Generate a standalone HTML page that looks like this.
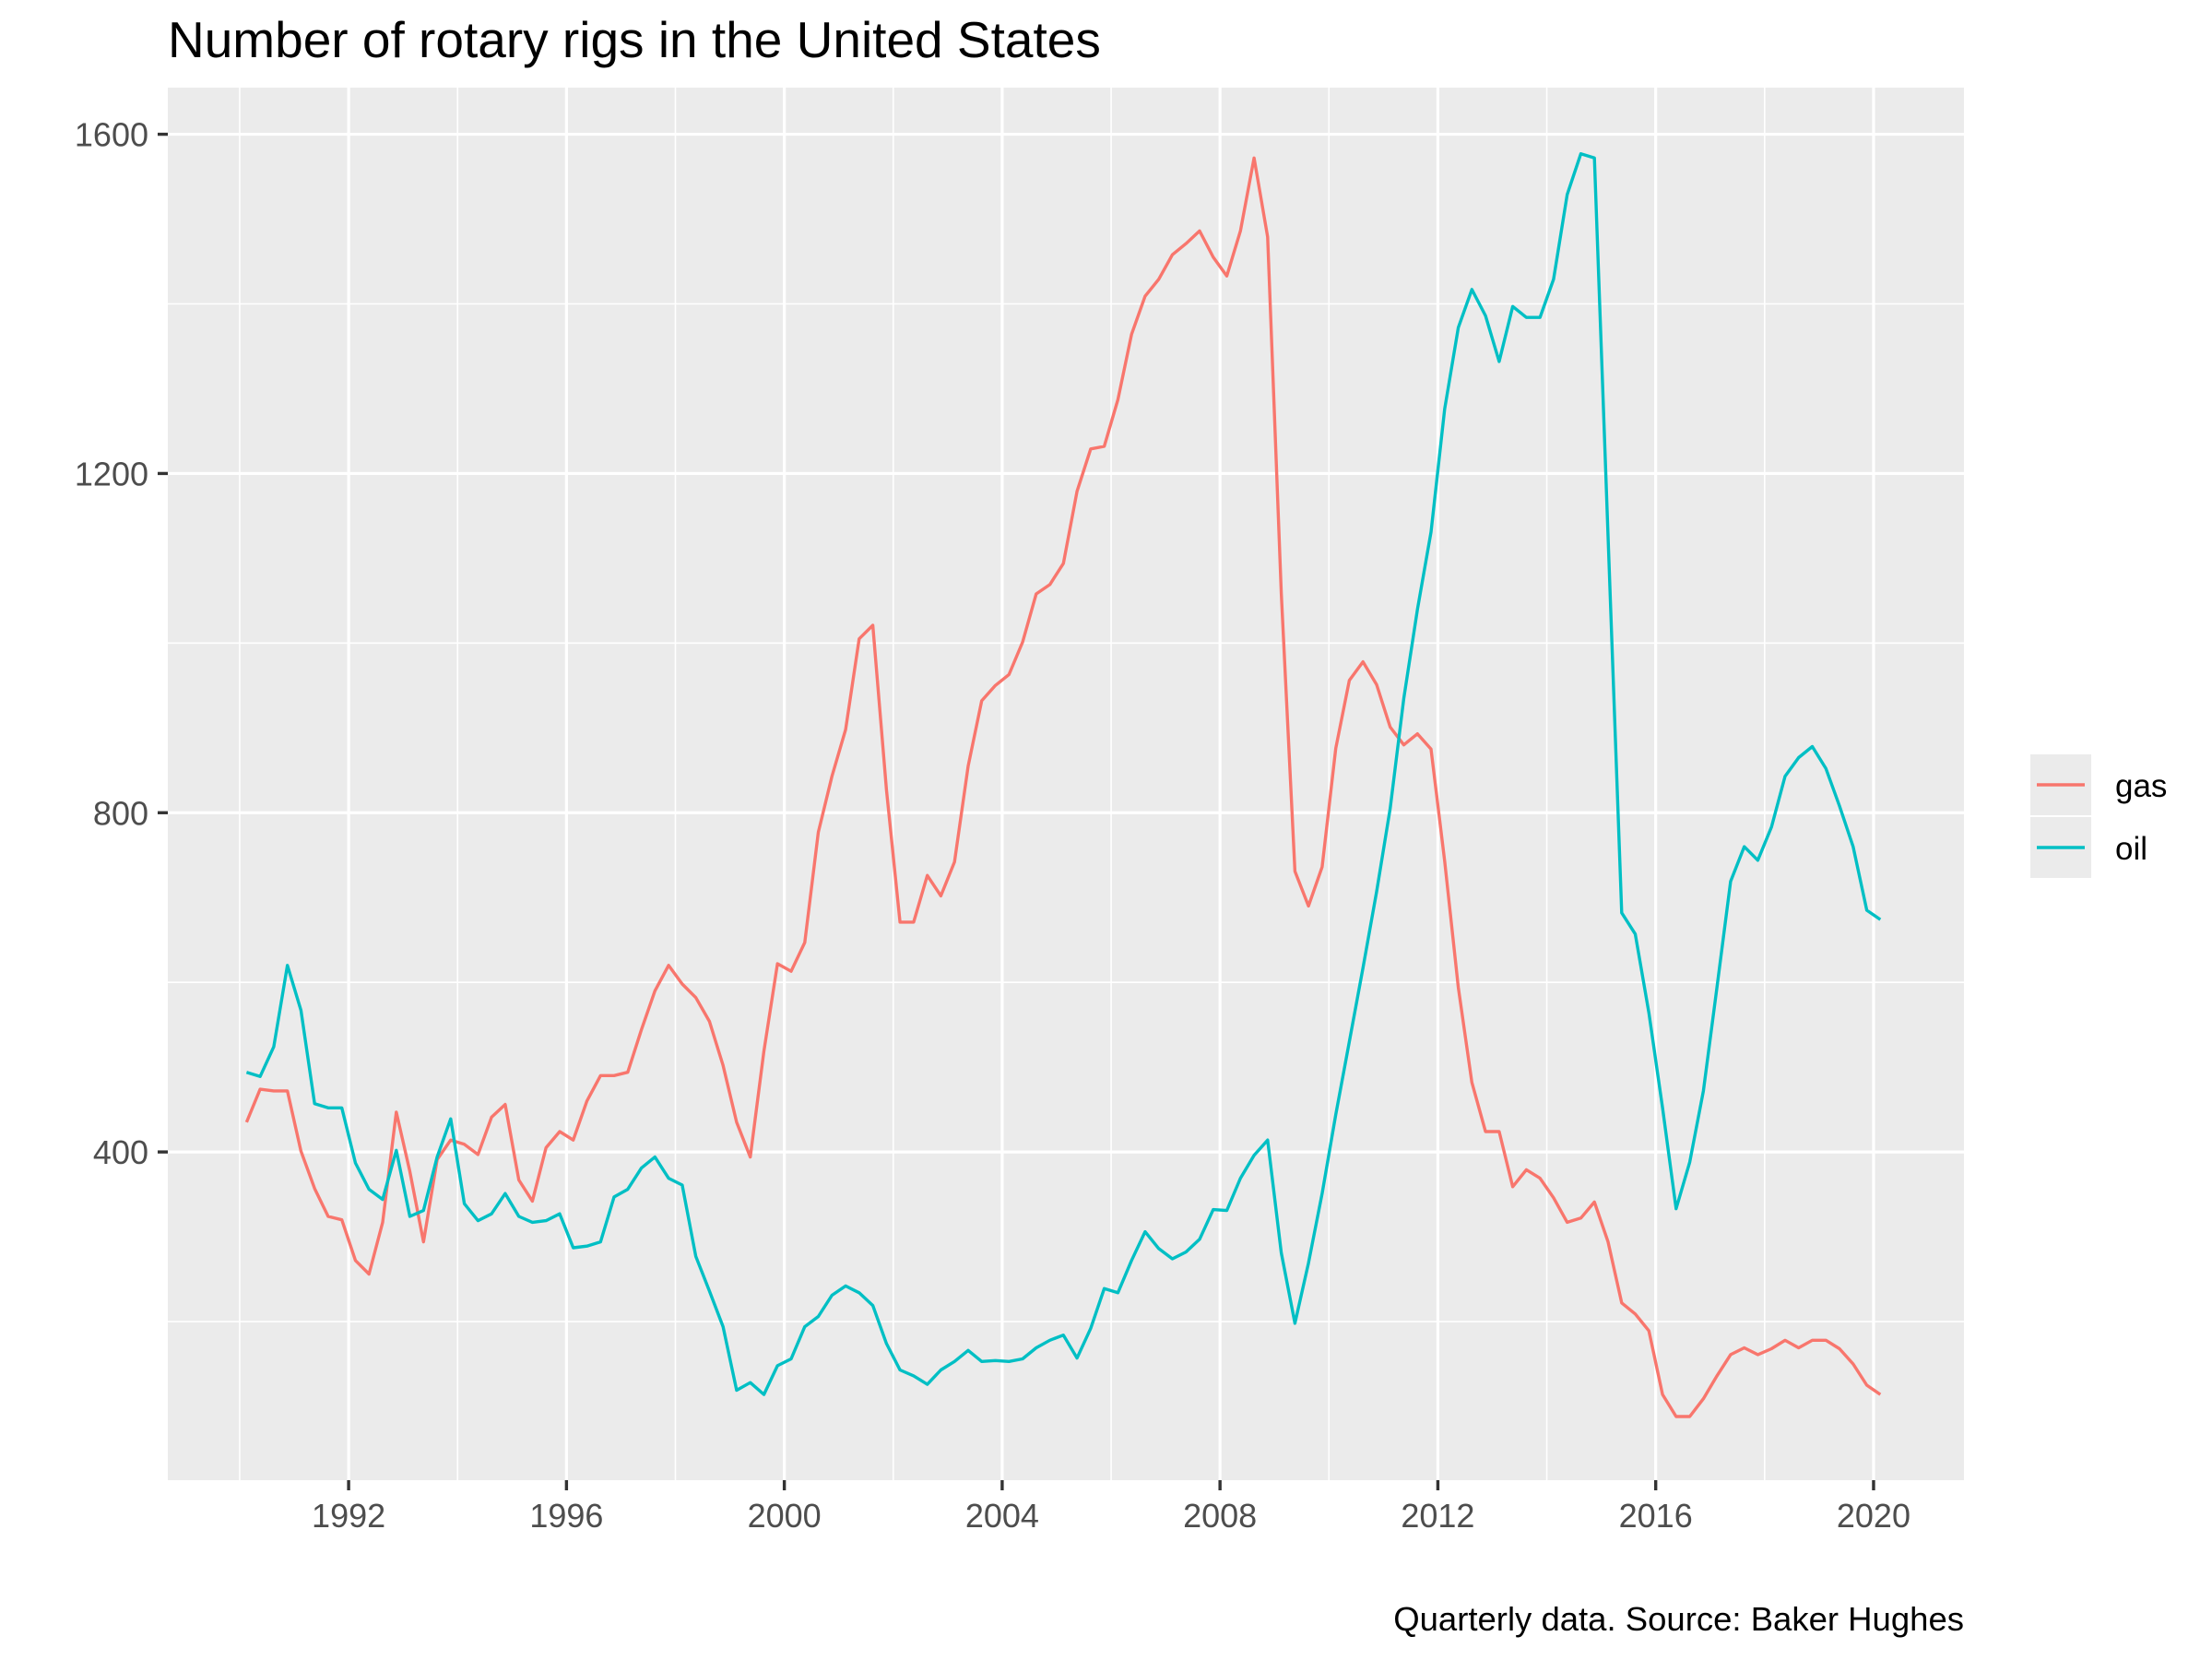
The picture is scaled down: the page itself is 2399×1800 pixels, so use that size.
<!DOCTYPE html>
<html><head><meta charset="utf-8"><style>
html,body{margin:0;padding:0;background:#fff;}
svg{display:block;font-family:"Liberation Sans",Arial,sans-serif;}
</style></head><body>
<svg id="chart" width="2399" height="1800" viewBox="0 0 2399 1800">
<rect x="0" y="0" width="2399" height="1800" fill="#fff"/>
<text x="182" y="62" font-size="55" fill="#000">Number of rotary rigs in the United States</text>
<rect x="182" y="95" width="1948" height="1510" fill="#ebebeb"/>
<g id="grid"></g>
<g id="series"></g>
<g id="axes"></g>
<text x="2130" y="1768" font-size="36.5" text-anchor="end" fill="#000">Quarterly data. Source: Baker Hughes</text>
<g>
<rect x="2202" y="818" width="66" height="66" fill="#ebebeb"/>
<line x1="2209" y1="851" x2="2261" y2="851" stroke="#F8766D" stroke-width="3.4"/>
<text x="2294" y="864" font-size="35" fill="#000">gas</text>
<rect x="2202" y="886" width="66" height="66" fill="#ebebeb"/>
<line x1="2209" y1="919" x2="2261" y2="919" stroke="#00BFC4" stroke-width="3.4"/>
<text x="2294" y="932" font-size="35" fill="#000">oil</text>
</g>
</svg>
<script>
const startYear = 1990.125;
const stepYears = 0.25;
const gasValues = [435,474,472,472,401,357,324,320,272,256,
317,447,377,294,391,414,409,397,441,456,
367,342,405,424,414,460,490,490,494,544,
590,620,598,582,554,502,435,394,519,622,
613,647,777,843,898,1005,1021,827,671,671,
726,702,742,855,932,950,963,1001,1058,1069,
1094,1179,1229,1232,1287,1364,1409,1429,1458,1471,
1486,1455,1433,1486,1572,1479,1059,731,690,736,
876,956,978,951,901,880,893,875,743,594,
482,424,424,359,379,369,346,317,322,341,
294,222,209,189,114,88,88,109,136,161,
169,161,168,178,169,178,178,168,150,125,114];
const oilValues = [494,489,524,620,567,457,452,452,387,356,
344,402,324,331,394,439,339,319,327,351,
324,317,319,327,287,289,294,347,356,381,
394,369,361,277,236,194,119,128,114,148,
156,194,206,231,242,234,219,174,143,136,
126,143,153,166,153,154,153,156,169,178,
184,157,192,239,234,272,306,286,274,282,
297,332,331,369,396,414,281,198,269,351,
444,530,617,707,805,935,1040,1131,1276,1372,
1417,1386,1332,1397,1384,1384,1429,1529,1577,1572,
1126,682,657,564,452,333,388,472,594,719,
760,744,783,843,865,878,852,808,760,685,674];
const xTicks = [1992,1996,2000,2004,2008,2012,2016,2020];
const xMinor = [1990,1994,1998,2002,2006,2010,2014,2018];
const yTicks = [400,800,1200,1600];
const yMinor = [200,600,1000,1400];

const NS="http://www.w3.org/2000/svg";
const X0=182,X1=2130,Y0=95,Y1=1605;
const xMin=1988.68,xMax=2021.66,yMin=13,yMax=1655;
function xs(v){return X0+(v-xMin)/(xMax-xMin)*(X1-X0);}
function ys(v){return Y1-(v-yMin)/(yMax-yMin)*(Y1-Y0);}
function mk(tag,attrs,parent){const e=document.createElementNS(NS,tag);for(const k in attrs)e.setAttribute(k,attrs[k]);parent.appendChild(e);return e;}
const grid=document.getElementById('grid'),axes=document.getElementById('axes'),series=document.getElementById('series');
yMinor.forEach(v=>{const l=mk('line',{x1:X0,x2:X1,y1:ys(v),y2:ys(v),stroke:'#fff','stroke-width':1.6},grid);

});
xMinor.forEach(v=>{const l=mk('line',{x1:xs(v),x2:xs(v),y1:Y0,y2:Y1,stroke:'#fff','stroke-width':1.6},grid);

});
yTicks.forEach(v=>{const y=ys(v);
const l=mk('line',{x1:X0,x2:X1,y1:y,y2:y,stroke:'#fff','stroke-width':3.2},grid);


const t=mk('line',{x1:X0-11,x2:X0,y1:y,y2:y,stroke:'#333','stroke-width':3.4},axes);


const tx=mk('text',{x:X0-21,y:y+13,'font-size':36,'text-anchor':'end',fill:'#4d4d4d'},axes);
tx.textContent=v;

});
xTicks.forEach(v=>{const x=xs(v);
const l=mk('line',{x1:x,x2:x,y1:Y0,y2:Y1,stroke:'#fff','stroke-width':3.2},grid);


const t=mk('line',{x1:x,x2:x,y1:Y1,y2:Y1+11,stroke:'#333','stroke-width':3.4},axes);


const tx=mk('text',{x:x,y:1656,'font-size':36,'text-anchor':'middle',fill:'#4d4d4d'},axes);
tx.textContent=v;

});
function drawLine(vals,color,name){
const pts=vals.map((v,i)=>xs(startYear+i*stepYears).toFixed(1)+','+ys(v).toFixed(1)).join(' ');
const p=mk('polyline',{points:pts,fill:'none',stroke:color,'stroke-width':3.4,'stroke-linejoin':'round'},series);

}
drawLine(gasValues,'#F8766D','gas-line');
drawLine(oilValues,'#00BFC4','oil-line');
</script>
</body></html>
